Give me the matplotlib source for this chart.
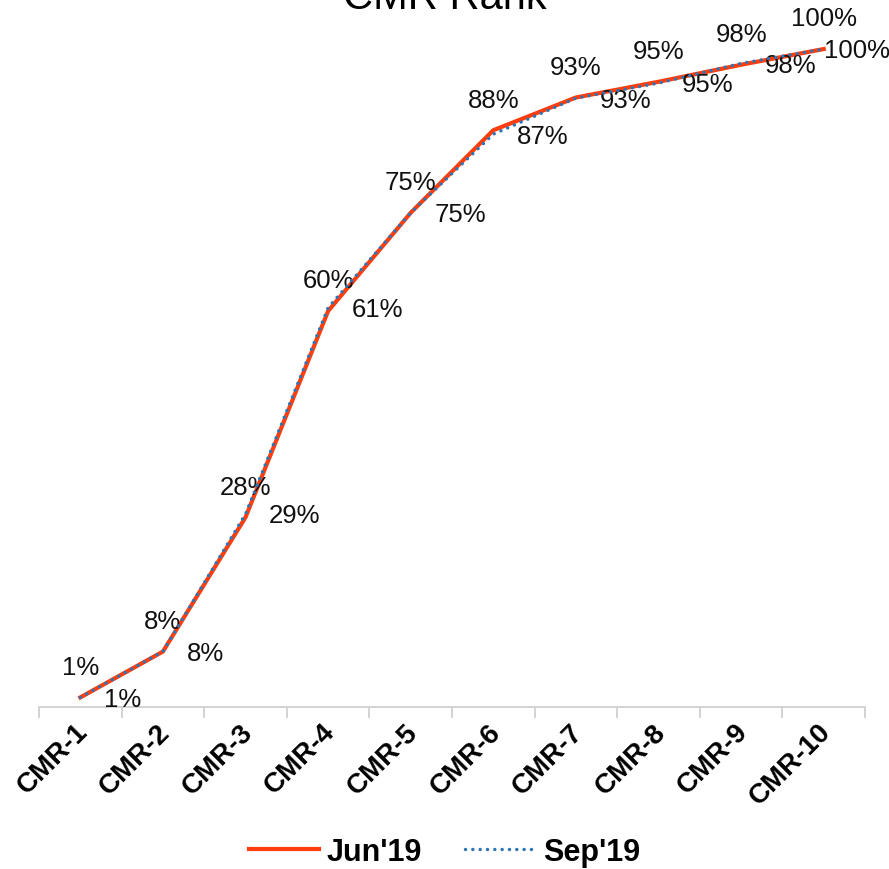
import numpy as np
import matplotlib.pyplot as plt

plt.rcParams['font.family'] = ['Liberation Sans', 'DejaVu Sans']

categories = ['CMR-1', 'CMR-2', 'CMR-3', 'CMR-4', 'CMR-5',
              'CMR-6', 'CMR-7', 'CMR-8', 'CMR-9', 'CMR-10']
jun19 = [0.01, 0.08, 0.285, 0.60, 0.75, 0.876, 0.926, 0.95, 0.976, 1.00]
sep19 = [0.01, 0.08, 0.29, 0.605, 0.75, 0.87, 0.925, 0.948, 0.978, 1.00]
jun_labels = ['1%', '8%', '28%', '60%', '75%', '88%', '93%', '95%', '98%', '100%']
sep_labels = ['1%', '8%', '29%', '61%', '75%', '87%', '93%', '95%', '98%', '100%']

red = '#FF3D0D'
blue = '#2E75B6'

fig = plt.figure(figsize=(8.89, 8.70), dpi=100)
ax = fig.add_axes([0.0439, 0.1897, 0.9291, 0.7528])

x = np.arange(len(categories))
ax.plot(x, jun19, color=red, lw=3.0, label="Jun'19", clip_on=False, zorder=3)
ax.plot(x, sep19, color=blue, lw=2.5, ls=(0, (0.01, 2.1)), dash_capstyle='round',
        label="Sep'19", clip_on=False, zorder=4)

for i in range(len(categories)):
    ax.annotate(jun_labels[i], (x[i], jun19[i]), xytext=(0, 22), textcoords='offset points',
                ha='center', va='center', fontsize=18.5, color='#111111')
    # last label is pulled in so it stays inside the chart
    dx = 17 if i < len(categories) - 1 else 0
    ax.annotate(sep_labels[i], (x[i], sep19[i]), xytext=(dx, -1), textcoords='offset points',
                ha='left', va='center', fontsize=18.5, color='#111111')

ax.set_xlim(-0.5, len(categories) - 0.5)
ax.set_ylim(0, 1.0)
ax.set_yticks([])
for s in ['top', 'right', 'left']:
    ax.spines[s].set_visible(False)
ax.spines['bottom'].set_color('#d0d0d0')
ax.spines['bottom'].set_linewidth(1.3)
ax.spines['bottom'].set_position(('data', -0.004))

ax.set_xticks(np.arange(-0.5, len(categories), 1.0), minor=False)
ax.set_xticklabels([])
ax.tick_params(axis='x', which='major', length=8, width=1.3, color='#d0d0d0', direction='out')
ax.set_xticks(x + 0.04, minor=True)
ax.set_xticklabels(categories, minor=True, rotation=45, ha='right', va='center',
                   rotation_mode='anchor', fontsize=20, fontweight='bold')
ax.tick_params(axis='x', which='minor', length=0, pad=15)

fig.text(0.5, 1 - 9 / 870, 'CMR Rank', ha='center', va='baseline', fontsize=30)

ax.legend(loc='center', bbox_to_anchor=(0.5, 1 - 853 / 870),
          bbox_transform=fig.transFigure, ncol=2, frameon=False, handlelength=2.3,
          columnspacing=1.4, handletextpad=0.25, prop={'size': 22, 'weight': 'bold'})

fig.savefig('out.png', dpi=100)
